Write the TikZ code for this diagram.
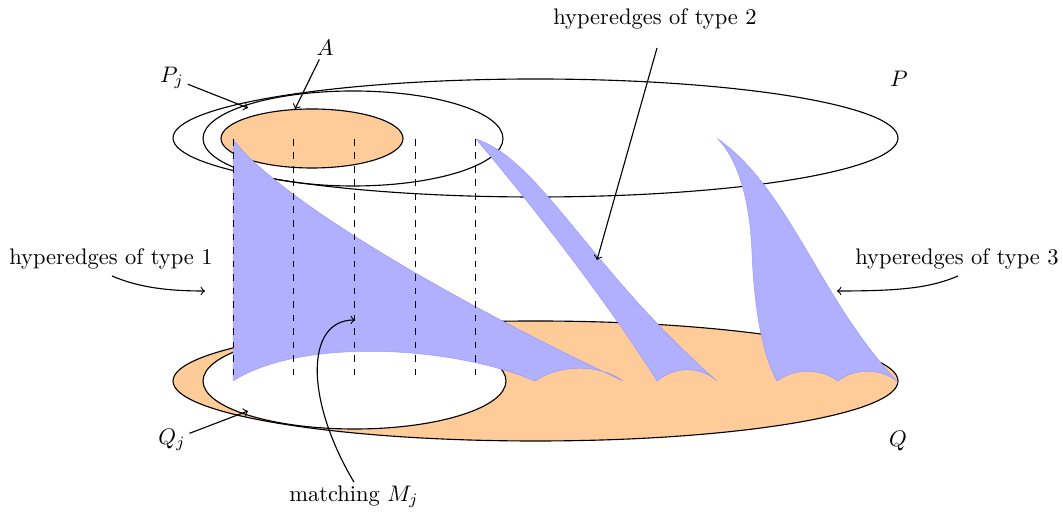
\documentclass[tikz,border=0pt]{standalone}
\usepackage{tikz}
\definecolor{sheetblue}{RGB}{176,176,255}
\definecolor{sheetedge}{RGB}{150,150,255}
\definecolor{orangefill}{RGB}{255,204,153}
\begin{document}
\begin{tikzpicture}[x=0.4444pt,y=-0.4444pt,
  setline/.style={draw=black, line width=0.5pt},
  sheet/.style={fill=sheetblue, draw=sheetedge, line width=0.2pt},
  vline/.style={dashed, line width=0.4pt},
  pointer/.style={->, line width=0.5pt},
  lbl/.style={inner sep=1.5pt}]
\useasboundingbox (0,0) rectangle (1063,517);

% bottom sets
\draw[setline, fill=orangefill] (535.5,381) ellipse [x radius=362.5, y radius=60];
\draw[setline, fill=white] (354.5,381) ellipse [x radius=151.5, y radius=48];

% top sets
\draw[setline] (535.5,138) ellipse [x radius=362.5, y radius=59];
\draw[setline] (353,138.5) ellipse [x radius=150, y radius=47.5];
\draw[setline, fill=orangefill] (312,138.5) ellipse [x radius=91, y radius=29.5];

% hyperedges of type 1
\path[sheet] (233,139) -- (233,381)
  .. controls (300,338) and (450,345) .. (535,381)
  .. controls (560,364) and (600,364) .. (623,381)
  .. controls (420,285) and (270,190) .. (233,139) -- cycle;
% hyperedge of type 2
\path[sheet] (476,139) .. controls (515,185) and (600,290) .. (657,381)
  .. controls (675,366) and (700,366) .. (717,381)
  .. controls (590,270) and (540,160) .. (476,139) -- cycle;
% hyperedge of type 3
\path[sheet] (718,139) .. controls (738,160) and (750,200) .. (752,253)
  .. controls (754,300) and (760,350) .. (777,381)
  .. controls (795,368) and (820,368) .. (838,381)
  .. controls (855,368) and (880,368) .. (897,381)
  .. controls (820,300) and (790,190) .. (718,139) -- cycle;

% matching
\foreach \x in {233,293,354,415,475}
  \draw[vline] (\x,139) -- (\x,381);

% labels
\node[lbl] (lA)  at (325,48)  {$A$};
\node[lbl] (lPj) at (172,78)  {$P_j$};
\node[lbl] (lP)  at (899,79)  {$P$};
\node[lbl] (lQj) at (172,440) {$Q_j$};
\node[lbl] (lQ)  at (898,441) {$Q$};
\node[lbl] (l1)  at (111,259) {hyperedges of type 1};
\node[lbl] (l2)  at (655,19)  {hyperedges of type 2};
\node[lbl] (l3)  at (957,259) {hyperedges of type 3};
\node[lbl] (lM)  at (354,497) {matching $M_j$};

% arrow ends
\coordinate (tA)  at (295,109);
\coordinate (tPj) at (248,108);
\coordinate (tQj) at (248,411);
\coordinate (s2)  at (657,48);
\coordinate (t2)  at (597,260);
\coordinate (s1)  at (112,276);
\coordinate (t1)  at (205,291);
\coordinate (s3)  at (958,276);
\coordinate (t3)  at (837,291);
\coordinate (tM)  at (355,320);

\draw[pointer] (lA) -- (tA);
\draw[pointer] (lPj) -- (tPj);
\draw[pointer] (lQj) -- (tQj);
\draw[pointer] (s2) -- (t2);
\draw[pointer] (s1) .. controls (140,288) and (170,291) .. (t1);
\draw[pointer] (s3) .. controls (930,288) and (900,291) .. (t3);
\draw[pointer] (lM.north) .. controls (305,400) and (305,320) .. (tM);
\end{tikzpicture}
\end{document}
